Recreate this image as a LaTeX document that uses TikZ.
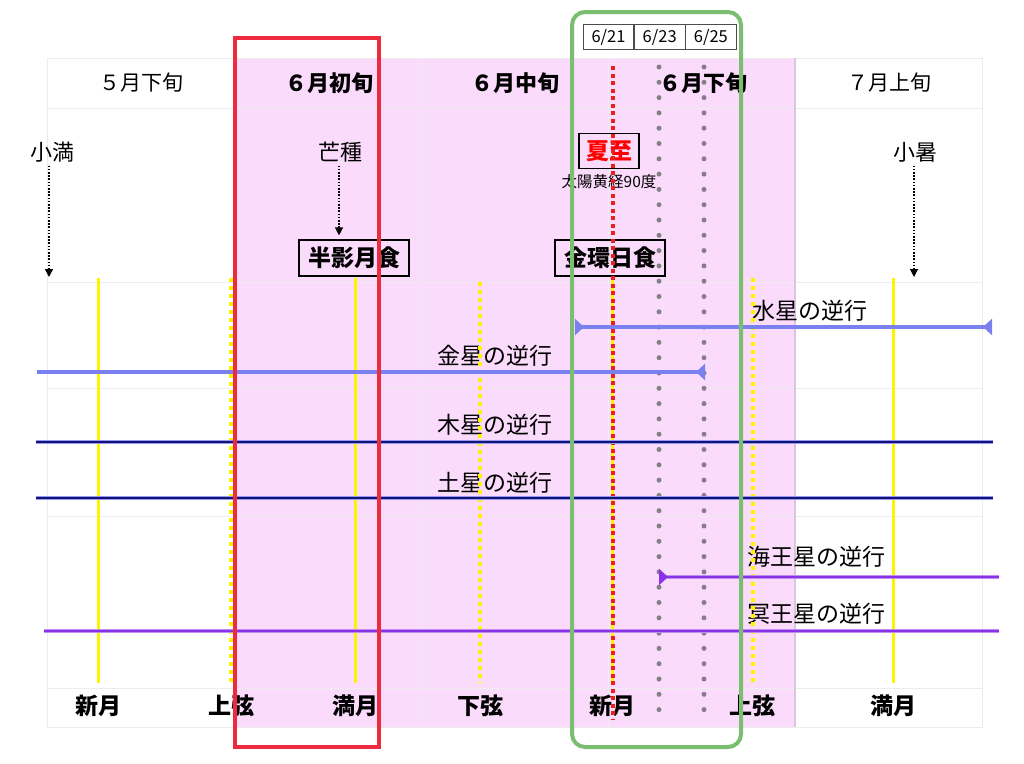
\documentclass[tikz,border=0pt]{standalone}
\usepackage{fontspec}
\setmainfont{Noto Sans CJK JP}
\usetikzlibrary{arrows.meta, positioning}

\definecolor{pinkbg}{HTML}{FBDBFB}
\definecolor{pinkedge}{HTML}{D9C6DD}
\definecolor{gridgray}{HTML}{ECECEC}
\definecolor{moonyellow}{HTML}{FFF400}
\definecolor{solred}{HTML}{E8201E}
\definecolor{dotgray}{HTML}{857F87}
\definecolor{venusblue}{HTML}{7A80F0}
\definecolor{darknavy}{HTML}{141478}
\definecolor{plutopurple}{HTML}{8A32E8}
\definecolor{framered}{HTML}{F02A3E}
\definecolor{framegreen}{HTML}{7ABF70}

\tikzset{retrotip/.tip={Triangle[reversed, length=9pt, width=16pt]}}

\begin{document}
\begin{tikzpicture}[
  x=1pt, y=-1pt,
  hdr/.style={font=\fontsize{21}{24}\selectfont},
  hdrb/.style={font=\fontsize{22}{24}\selectfont\bfseries},
  season/.style={font=\fontsize{22}{26}\selectfont},
  phase/.style={font=\fontsize{23}{26}\selectfont\bfseries},
  eclipse/.style={draw=black, line width=1.2pt, minimum width=110pt, minimum height=36pt, inner sep=0pt, font=\fontsize{23}{26}\selectfont\bfseries},
  datebox/.style={draw=black!70, line width=0.7pt, minimum width=50.5pt, minimum height=25pt, inner sep=0pt, font=\fontsize{16.5}{18}\selectfont},
  retro/.style={font=\fontsize{23}{26}\selectfont},
  pointer/.style={-{Triangle[length=8pt, width=8pt]}, line width=1.3pt, dash pattern=on 1.6pt off 1.6pt},
  gridline/.style={draw=gridgray, line width=1pt},
  moonsolid/.style={draw=moonyellow, line width=3pt},
  moondot/.style={draw=moonyellow, line width=3.5pt, dash pattern=on 4pt off 4pt},
  solstice/.style={draw=solred, line width=3.5pt, dash pattern=on 4pt off 3.5pt},
  daydots/.style={draw=dotgray, line width=5pt, line cap=round, dash pattern=on 0pt off 15.3pt},
  blueline/.style={draw=venusblue, line width=3.2pt},
  navyline/.style={draw=darknavy, line width=2.6pt, preaction={draw=venusblue!80, line width=4.6pt}},
  purpline/.style={draw=plutopurple, line width=2.6pt, preaction={draw=plutopurple!55, line width=4.6pt}}
]
\useasboundingbox (0,0) rectangle (1024,763);

% table background
\fill[pinkbg] (235,58) rectangle (795,727);
\draw[gridline] (47,58) rectangle (982,727);
\foreach \y in {108,282,388,516,688}
  \draw[gridline] (47,\y) -- (982,\y);
\foreach \x in {235,421,608}
  \draw[gridline] (\x,58) -- (\x,727);
\draw[draw=pinkedge, line width=1.5pt] (795,58) -- (795,727);

% header row
\node[hdr]  (may3)  at (141,83) {５月下旬};
\node[hdrb] (jun1)  at (329,83) {６月初旬};
\node[hdrb] (jun2)  at (515,83) {６月中旬};
\node[hdrb] (jun3)  at (703,83) {６月下旬};
\node[hdr]  (jul1)  at (889,83) {７月上旬};

% solar terms
\node[season] (shoman) at (52,152) {小満};
\node[season] (boshu)  at (340,152) {芒種};
\node[season] (shosho) at (915,152) {小暑};
\node[draw=black, line width=1.2pt, minimum width=60pt, minimum height=35pt, inner sep=0pt,
      text=red, font=\fontsize{23}{26}\selectfont\bfseries] (geshi) at (609,151) {夏至};
\node[font=\fontsize{15.5}{18}\selectfont, below=2pt of geshi] (kokei) {太陽黄経90度};

% eclipses
\node[eclipse] (penum)   at (354,258) {半影月食};
\node[eclipse] (annular) at (610,258) {金環日食};

\coordinate (shomanE) at (49,277);
\coordinate (shoshoE) at (914,277);
\draw[pointer] (shoman.south -| shomanE) -- (shomanE);
\draw[pointer, shorten >=4pt] ([xshift=-1pt]boshu.south) -- ([xshift=-1pt]boshu.south |- penum.north);
\draw[pointer] (shosho.south -| shoshoE) -- (shoshoE);

% moon phases
\node[phase] (new1)  at (98,706)  {新月};
\node[phase] (fq1)   at (231,706) {上弦};
\node[phase] (full1) at (355,706) {満月};
\node[phase] (lq1)   at (480,706) {下弦};
\node[phase] (new2)  at (612,706) {新月};
\node[phase] (fq2)   at (752,706) {上弦};
\node[phase] (full2) at (893,706) {満月};

% retrograde labels
\node[retro] (merL) at (810,311) {水星の逆行};
\node[retro] (venL) at (495,356) {金星の逆行};
\node[retro] (jupL) at (495,425) {木星の逆行};
\node[retro] (satL) at (495,483) {土星の逆行};
\node[retro] (nepL) at (816,557) {海王星の逆行};
\node[retro] (pluL) at (816,614) {冥王星の逆行};

% moon phase lines
\draw[moonsolid] (98,278) -- (98,683);
\draw[moondot]   (231,278) -- (231,683);
\draw[moonsolid] (355,278) -- (355,683);
\draw[moondot]   (480,282) -- (480,683);
\draw[moonsolid] (612,278) -- (612,683);
\draw[moondot]   (753,278) -- (753,683);
\draw[moonsolid] (893,278) -- (893,683);

% dates around the solstice
\node[datebox] (d21) at (608.5,37) {6/21};
\node[datebox, right=0pt of d21] (d23) {6/23};
\node[datebox, right=0pt of d23] (d25) {6/25};
\draw[solstice] (613,66) -- (613,720);
\draw[daydots] (659,67) -- (659,712);
\draw[daydots] (704,67) -- (704,712);

% retrograde periods
\coordinate (merA) at (575,327);  \coordinate (merB) at (992,327);
\coordinate (venA) at (37,372);   \coordinate (venB) at (705,372);
\coordinate (jupA) at (36,442);   \coordinate (jupB) at (993,442);
\coordinate (satA) at (36,498);   \coordinate (satB) at (993,498);
\coordinate (nepA) at (659,577);  \coordinate (nepB) at (999,577);
\coordinate (pluA) at (44,631);   \coordinate (pluB) at (999,631);
\draw[blueline, {retrotip}-{retrotip}] (merA) -- (merB);
\draw[blueline, -{retrotip}] (venA) -- (venB);
\draw[navyline] (jupA) -- (jupB);
\draw[navyline] (satA) -- (satB);
\draw[purpline] (nepB) -- (nepA);
\draw[draw=plutopurple, line width=2.6pt, -{retrotip}] ([xshift=12pt]nepA) -- (nepA);
\draw[purpline] (pluA) -- (pluB);

% highlight frames
\draw[framered, line width=4.5pt] (235,38) rectangle (379,747);
\draw[framegreen, line width=4pt, rounded corners=13pt] (572,12) rectangle (741,747);
\end{tikzpicture}
\end{document}
